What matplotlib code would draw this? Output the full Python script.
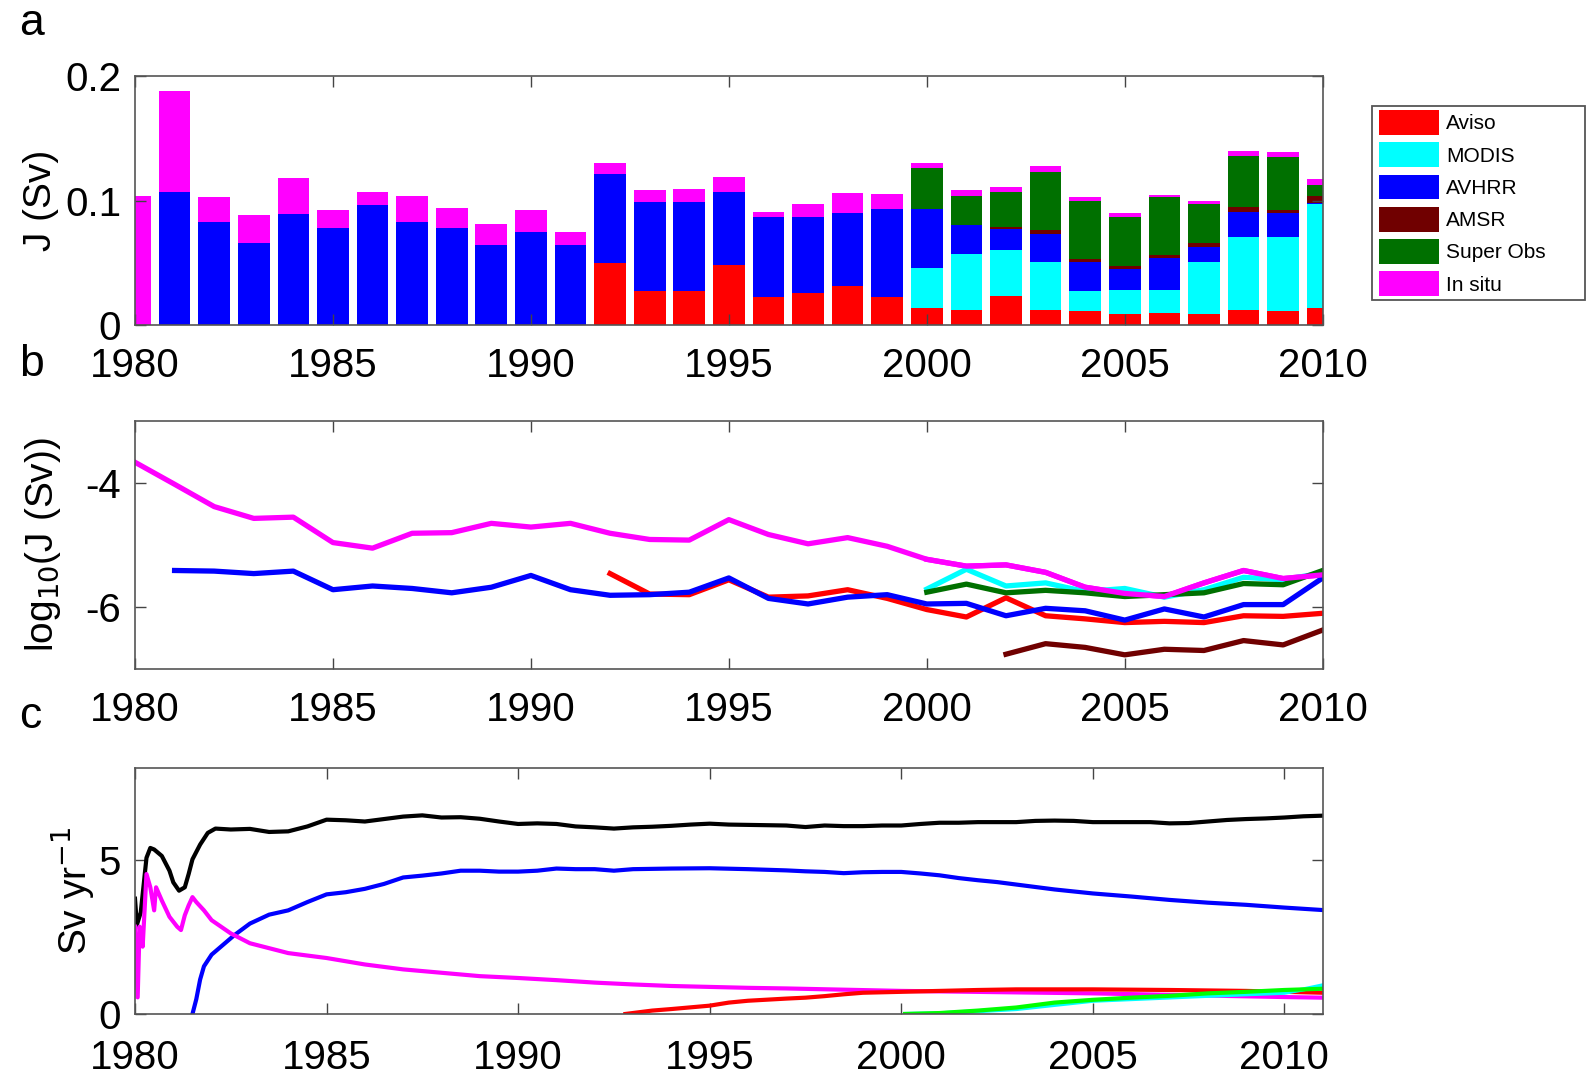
import matplotlib
matplotlib.use("Agg")
import matplotlib.pyplot as plt
import numpy as np
from matplotlib.patches import Patch, Rectangle

plt.rcParams['font.family'] = ['Liberation Sans', 'DejaVu Sans']

# ---------------- Panel a: stacked bars (segment heights, Sv) ----------------
years = list(range(1980, 2011))
aviso = [0, 0, 0, 0, 0, 0, 0, 0, 0, 0, 0, 0,
         0.050, 0.027, 0.027, 0.048, 0.0225, 0.0255, 0.031, 0.0225,
         0.014, 0.012, 0.0236, 0.012, 0.011, 0.009, 0.0094, 0.009, 0.012, 0.0115, 0.0134]
modis = [0]*20 + [0.0316, 0.045, 0.0364, 0.0385, 0.016, 0.0189, 0.0191, 0.042, 0.059, 0.059, 0.0836]
avhrr = [0, 0.107, 0.083, 0.066, 0.089, 0.078, 0.096, 0.083, 0.078, 0.064, 0.075, 0.064,
         0.0716, 0.072, 0.072, 0.059, 0.0645, 0.0615, 0.059, 0.0705,
         0.0474, 0.0235, 0.017, 0.023, 0.0237, 0.0169, 0.0257, 0.0118, 0.020, 0.0194, 0.001]
amsr = [0]*22 + [0.002, 0.003, 0.0027, 0.0024, 0.0022, 0.0027, 0.0038, 0.0023, 0.006]
superobs = [0]*20 + [0.033, 0.0235, 0.028, 0.0465, 0.0466, 0.0395, 0.0461, 0.0315, 0.0412, 0.0427, 0.0085]
insitu = [0.104, 0.081, 0.0195, 0.022, 0.029, 0.014, 0.011, 0.021, 0.016, 0.017, 0.017, 0.011,
          0.0084, 0.0097, 0.010, 0.012, 0.004, 0.0105, 0.016, 0.012,
          0.004, 0.0045, 0.0036, 0.005, 0.003, 0.003, 0.0022, 0.003, 0.004, 0.004, 0.0045]
source_names = ['Aviso', 'MODIS', 'AVHRR', 'AMSR', 'Super Obs', 'In situ']
source_colors = ['#ff0000', '#00ffff', '#0000ff', '#700000', '#007000', '#ff00ff']

# ---------------- Panel b: log10(J) lines ----------------
insitu_b_years = list(range(1980, 2011))
insitu_b = [-3.665, -4.02, -4.38, -4.57, -4.55, -4.96, -5.05, -4.81, -4.80, -4.65, -4.71,
            -4.65, -4.81, -4.91, -4.92, -4.59, -4.83, -4.98, -4.88, -5.02, -5.23,
            -5.34, -5.32, -5.44, -5.68, -5.78, -5.83, -5.61, -5.41, -5.54, -5.48]
avhrr_b_years = list(range(1981, 2011))
avhrr_b = [-5.41, -5.42, -5.46, -5.42, -5.72, -5.66, -5.70, -5.77, -5.68, -5.49,
           -5.72, -5.81, -5.80, -5.76, -5.53, -5.86, -5.95, -5.84, -5.80, -5.95,
           -5.94, -6.14, -6.02, -6.06, -6.21, -6.03, -6.16, -5.96, -5.96, -5.53]
aviso_b_years = list(range(1992, 2011))
aviso_b = [-5.46, -5.79, -5.80, -5.56, -5.84, -5.82, -5.72, -5.86, -6.04, -6.16,
           -5.85, -6.14, -6.19, -6.25, -6.23, -6.25, -6.14, -6.15, -6.10]
modis_b_years = list(range(2000, 2011))
modis_b = [-5.71, -5.39, -5.66, -5.61, -5.75, -5.70, -5.84, -5.72, -5.52, -5.56, -5.45]
superobs_b_years = list(range(2000, 2011))
superobs_b = [-5.76, -5.63, -5.77, -5.73, -5.77, -5.83, -5.80, -5.77, -5.62, -5.64, -5.41]
amsr_b_years = list(range(2002, 2011))
amsr_b = [-6.76, -6.59, -6.65, -6.77, -6.68, -6.70, -6.54, -6.61, -6.37]

# ---------------- Panel c: Sv yr^-1 time series ----------------
total_c_t = [1980.0, 1980.05, 1980.15, 1980.3, 1980.4, 1980.5, 1980.7, 1980.9, 1981.0, 1981.15,
             1981.3, 1981.4, 1981.5, 1981.7, 1981.9, 1982.1, 1982.5, 1983.0, 1983.5, 1984.0,
             1984.5, 1985.0, 1985.5, 1986.0, 1986.5, 1987.0, 1987.5, 1988.0, 1988.5, 1989.0,
             1989.5, 1990.0, 1990.5, 1991.0, 1991.5, 1992.0, 1992.5, 1993.0, 1993.5, 1994.0,
             1994.5, 1995.0, 1995.5, 1996.0, 1996.5, 1997.0, 1997.5, 1998.0, 1998.5, 1999.0,
             1999.5, 2000.0, 2000.5, 2001.0, 2001.5, 2002.0, 2002.5, 2003.0, 2003.5, 2004.0,
             2004.5, 2005.0, 2005.5, 2006.0, 2006.5, 2007.0, 2007.5, 2008.0, 2008.5, 2009.0,
             2009.5, 2010.0, 2010.5, 2011.0]
total_c = [3.75, 2.9, 3.3, 5.08, 5.4, 5.35, 5.14, 4.66, 4.28, 4.01,
           4.12, 4.55, 5.03, 5.51, 5.89, 6.03, 6.0, 6.02, 5.92, 5.94,
           6.10, 6.32, 6.30, 6.26, 6.34, 6.42, 6.46, 6.39, 6.40, 6.35,
           6.26, 6.18, 6.20, 6.18, 6.10, 6.07, 6.03, 6.07, 6.09, 6.12,
           6.16, 6.19, 6.16, 6.15, 6.14, 6.13, 6.08, 6.13, 6.11, 6.11,
           6.13, 6.13, 6.18, 6.22, 6.22, 6.24, 6.24, 6.24, 6.28, 6.29,
           6.28, 6.24, 6.24, 6.24, 6.24, 6.20, 6.21, 6.26, 6.31, 6.34,
           6.36, 6.39, 6.43, 6.45]
avhrr_c_t = [1981.5, 1981.6, 1981.7, 1981.8, 1982.0, 1982.3, 1982.6, 1983.0, 1983.5, 1984.0,
             1984.5, 1985.0, 1985.5, 1986.0, 1986.5, 1987.0, 1987.5, 1988.0, 1988.5, 1989.0,
             1989.5, 1990.0, 1990.5, 1991.0, 1991.5, 1992.0, 1992.5, 1993.0, 1994.0, 1995.0,
             1996.0, 1997.0, 1997.5, 1998.0, 1998.5, 1999.0, 1999.5, 2000.0, 2000.5, 2001.0,
             2001.5, 2002.0, 2002.5, 2003.0, 2004.0, 2005.0, 2006.0, 2007.0, 2008.0, 2009.0,
             2010.0, 2011.0]
avhrr_c = [0.0, 0.48, 1.12, 1.55, 1.93, 2.25, 2.57, 2.94, 3.23, 3.37,
           3.64, 3.89, 3.96, 4.07, 4.23, 4.44, 4.50, 4.57, 4.66, 4.66,
           4.63, 4.63, 4.66, 4.73, 4.71, 4.71, 4.66, 4.71, 4.73, 4.74,
           4.71, 4.67, 4.64, 4.62, 4.58, 4.61, 4.62, 4.62, 4.57, 4.51,
           4.42, 4.35, 4.29, 4.21, 4.05, 3.92, 3.82, 3.71, 3.62, 3.55,
           3.46, 3.38]
insitu_c_t = [1980.0, 1980.07, 1980.12, 1980.2, 1980.3, 1980.4, 1980.5, 1980.55, 1980.7, 1980.9,
              1981.1, 1981.2, 1981.3, 1981.4, 1981.5, 1981.6, 1981.8, 1982.0, 1982.5, 1983.0,
              1983.5, 1984.0, 1984.5, 1985.0, 1986.0, 1987.0, 1988.0, 1989.0, 1990.0, 1991.0,
              1992.0, 1993.0, 1994.0, 1995.0, 1996.0, 1997.0, 2000.0, 2005.0, 2010.0, 2011.0]
insitu_c = [2.84, 0.54, 2.84, 2.19, 4.55, 4.12, 3.37, 4.12, 3.69, 3.16,
            2.84, 2.73, 3.21, 3.53, 3.80, 3.64, 3.37, 3.05, 2.62, 2.30,
            2.14, 1.98, 1.90, 1.82, 1.61, 1.45, 1.34, 1.23, 1.17, 1.10,
            1.02, 0.96, 0.91, 0.88, 0.85, 0.83, 0.75, 0.67, 0.55, 0.53]
aviso_c_t = [1992.8, 1993.5, 1994.0, 1995.0, 1995.5, 1996.0, 1997.0, 1997.5, 1998.0, 1998.5,
             1999.0, 2000.0, 2001.0, 2002.0, 2003.0, 2005.0, 2007.0, 2009.0, 2011.0]
aviso_c = [0.0, 0.11, 0.16, 0.27, 0.37, 0.43, 0.50, 0.53, 0.58, 0.64,
           0.69, 0.72, 0.75, 0.78, 0.80, 0.80, 0.78, 0.75, 0.69]
modis_c_t = [2000.1, 2001.0, 2003.0, 2005.0, 2008.0, 2010.0, 2010.5, 2011.0]
modis_c = [0.0, 0.02, 0.16, 0.43, 0.59, 0.69, 0.80, 0.93]
superobs_c_t = [2000.1, 2001.0, 2002.0, 2003.0, 2004.0, 2005.0, 2006.0, 2007.0, 2008.0, 2009.0,
                2010.0, 2011.0]
superobs_c = [0.0, 0.03, 0.11, 0.21, 0.37, 0.46, 0.53, 0.59, 0.67, 0.72, 0.78, 0.82]

xticks = [1980, 1985, 1990, 1995, 2000, 2005, 2010]

FS = 29
LFS = 28
fig = plt.figure(figsize=(15.9, 10.74), dpi=100)

def style(ax, xpad):
    ax.tick_params(direction='in', top=True, right=True, length=8, width=1,
                   labelsize=FS, color='#444444', pad=10)
    ax.tick_params(axis='x', pad=xpad)
    for s in ax.spines.values():
        s.set_color('#555555')
        s.set_linewidth(1.2)

# Panel a
axa = fig.add_axes([0.0849, 0.6974, 0.747, 0.2318])
segments = [aviso, modis, avhrr, amsr, superobs, insitu]
bottom = np.zeros(len(years))
for seg, col in zip(segments, source_colors):
    axa.bar(years, seg, width=0.8, bottom=bottom, color=col, edgecolor='none')
    bottom = bottom + np.array(seg)
axa.set_xlim(1980, 2010)
axa.set_ylim(0, 0.2)
axa.set_xticks(xticks)
axa.set_yticks([0, 0.1, 0.2])
axa.set_yticklabels(['0', '0.1', '0.2'])
axa.set_ylabel('J (Sv)', fontsize=LFS, labelpad=4)
style(axa, 16)

# Legend (frame drawn as a separate rectangle in figure coordinates)
handles = [Patch(facecolor=c, edgecolor='none', label=n) for n, c in zip(source_names, source_colors)]
leg = fig.legend(handles=handles, loc='upper left', bbox_to_anchor=(0.8675, 0.8975),
                 fontsize=15, frameon=False, handlelength=2.85, handleheight=1.45,
                 labelspacing=0.36, borderpad=0.0, handletextpad=0.35, borderaxespad=0)
fig.add_artist(Rectangle((0.8629, 0.7207), 0.1340, 0.1806, transform=fig.transFigure,
                         facecolor='none', edgecolor='#555555', linewidth=1.3))

# Panel b
axb = fig.add_axes([0.0849, 0.377, 0.747, 0.231])
lw = 3.8
axb.plot(insitu_b_years, insitu_b, color='#ff00ff', lw=lw)
axb.plot(aviso_b_years, aviso_b, color='#ff0000', lw=lw)
axb.plot(avhrr_b_years, avhrr_b, color='#0000ff', lw=lw)
axb.plot(modis_b_years, modis_b, color='#00ffff', lw=lw)
axb.plot(superobs_b_years, superobs_b, color='#007000', lw=lw)
axb.plot(amsr_b_years, amsr_b, color='#700000', lw=lw)
axb.plot(insitu_b_years[20:], insitu_b[20:], color='#ff00ff', lw=lw)
axb.set_xlim(1980, 2010)
axb.set_ylim(-7, -3)
axb.set_xticks(xticks)
axb.set_yticks([-4, -6])
axb.set_yticklabels(['-4', '-6'])
axb.set_ylabel(r'log$_{10}$(J (Sv))', fontsize=LFS, labelpad=16)
style(axb, 16)

# Panel c
axc = fig.add_axes([0.0849, 0.0559, 0.747, 0.229])
lwc = 3.0
axc.plot(total_c_t, total_c, color='black', lw=lwc)
axc.plot(avhrr_c_t, avhrr_c, color='#0000ff', lw=lwc)
axc.plot(insitu_c_t, insitu_c, color='#ff00ff', lw=lwc)
axc.plot(aviso_c_t, aviso_c, color='#ff0000', lw=lwc)
axc.plot(modis_c_t, modis_c, color='#00ffff', lw=lwc)
axc.plot(superobs_c_t, superobs_c, color='#00ff00', lw=lwc)
axc.set_xlim(1980, 2011)
axc.set_ylim(0, 8)
axc.set_xticks(xticks)
axc.set_yticks([0, 5])
axc.set_ylabel(r'Sv yr$^{-1}$', fontsize=LFS, labelpad=2)
style(axc, 18)

# Panel letters
fig.text(0.012, 0.997, 'a', fontsize=32, va='top')
fig.text(0.012, 0.680, 'b', fontsize=32, va='top')
fig.text(0.012, 0.352, 'c', fontsize=32, va='top')

fig.savefig('out.png', dpi=100)
